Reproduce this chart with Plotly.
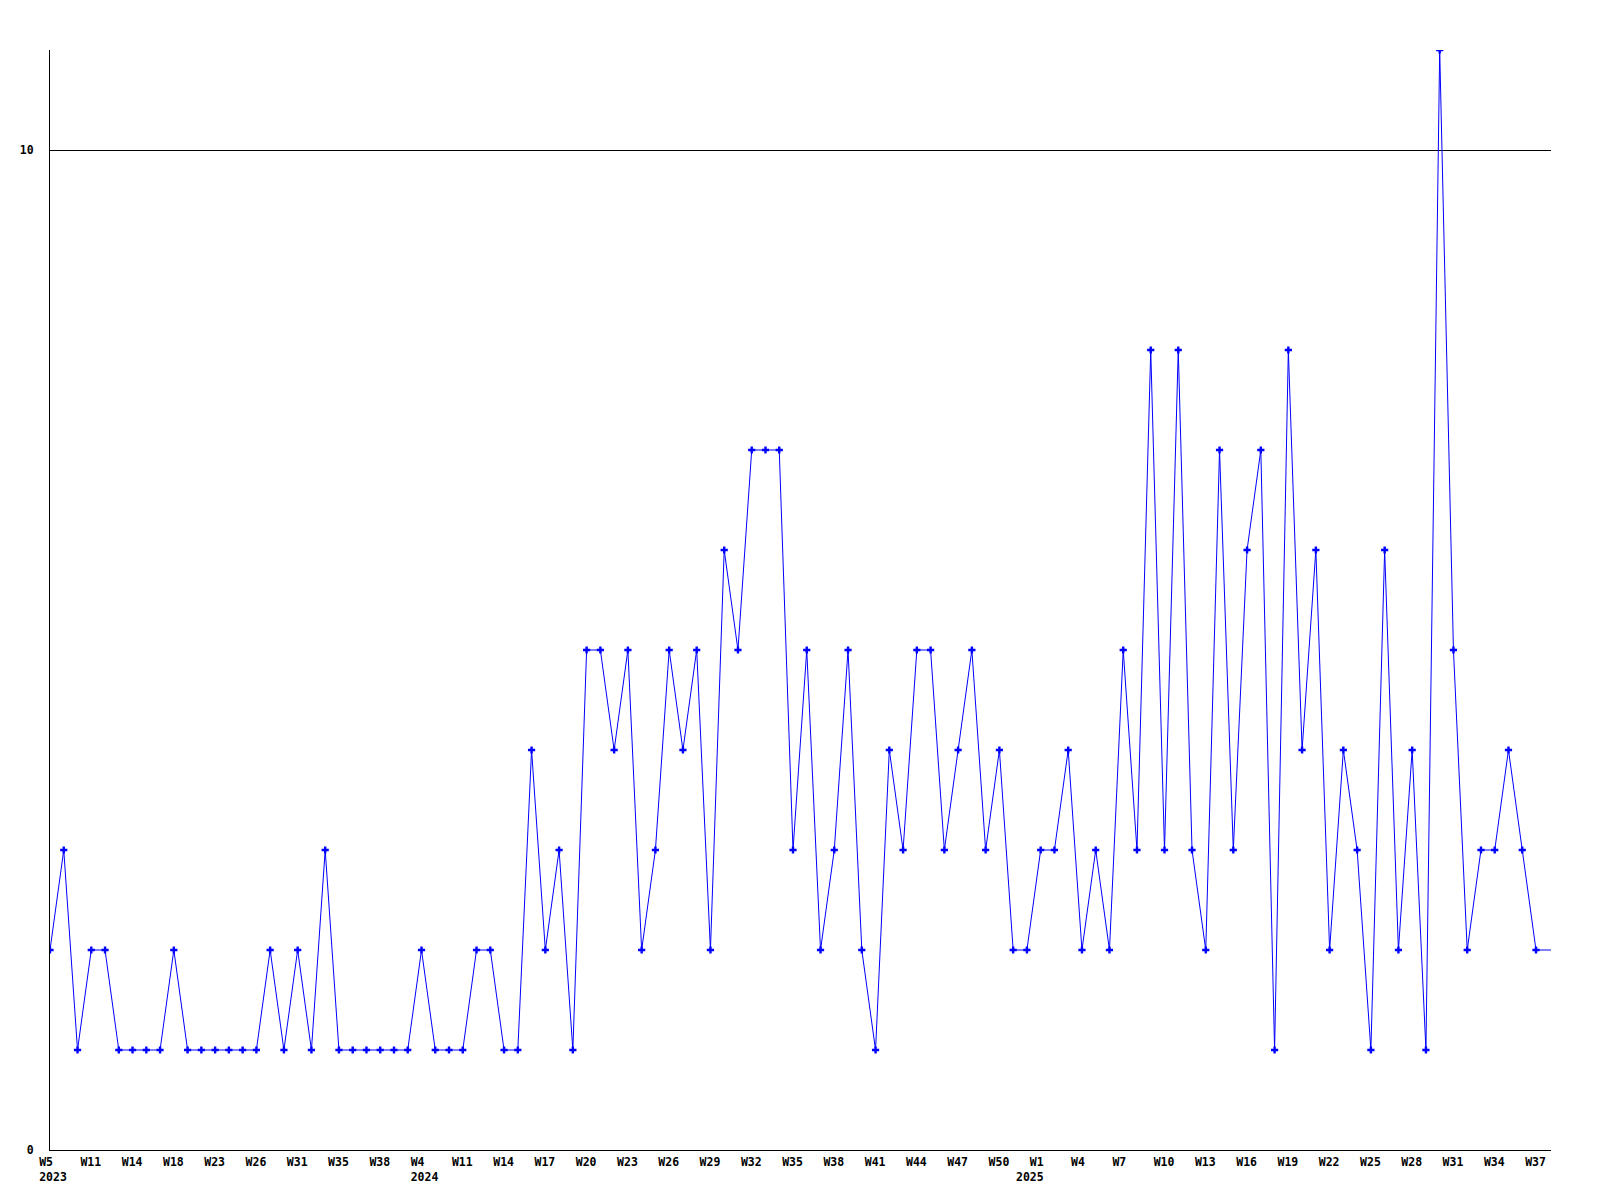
import plotly.graph_objects as go

# Weekly values, 2023 W5 ... 2025 W37 (109 reported weeks)
values = [2, 3, 1, 2, 2, 1, 1, 1, 1, 2, 1, 1, 1, 1, 1, 1, 2, 1, 2, 1,
          3, 1, 1, 1, 1, 1, 1, 2, 1, 1, 1, 2, 2, 1, 1, 4, 2, 3, 1, 5,
          5, 4, 5, 2, 3, 5, 4, 5, 2, 6, 5, 7, 7, 7, 3, 5, 2, 3, 5, 2,
          1, 4, 3, 5, 5, 3, 4, 5, 3, 4, 2, 2, 3, 3, 4, 2, 3, 2, 5, 3,
          8, 3, 8, 3, 2, 7, 3, 6, 7, 1, 8, 4, 6, 2, 4, 3, 1, 6, 2, 4,
          1, 11, 5, 2, 3, 3, 4, 3, 2]

# Tick labels shown every third point
tick_weeks = ["W5", "W11", "W14", "W18", "W23", "W26", "W31", "W35", "W38",
              "W4", "W11", "W14", "W17", "W20", "W23", "W26", "W29", "W32",
              "W35", "W38", "W41", "W44", "W47", "W50",
              "W1", "W4", "W7", "W10", "W13", "W16", "W19", "W22", "W25",
              "W28", "W31", "W34", "W37"]
tick_years = {0: "2023", 9: "2024", 24: "2025"}
year_left_chars = {24: 2}   # 2025 label sits two characters further left
tick_step = 3

y_ticks = [0, 10]
y_range = [0, 11]

x = list(range(len(values)))
x_max = len(values) - 1 + 1.09

NB = "\u00a0"
ticktext = []
for i, w in enumerate(tick_weeks):
    lab = w + NB * (4 - len(w))
    if i in tick_years:
        k = year_left_chars.get(i, 0)
        lab += "<br>" + tick_years[i] + NB * (2 * k)
    ticktext.append(lab)
tickvals = [i * tick_step for i in range(len(tick_weeks))]

blue = "#0000FF"
font = dict(family="DejaVu Sans Mono", size=11.5, color="black", weight="bold")

fig = go.Figure()
fig.add_trace(go.Scatter(
    x=x, y=values, mode="lines+markers",
    line=dict(color=blue, width=1),
    marker=dict(symbol="cross", size=6, color=blue, line=dict(width=0)),
    showlegend=False,
))
fig.add_trace(go.Scatter(
    x=[x[-1], x_max], y=[values[-1], values[-1]], mode="lines",
    line=dict(color=blue, width=1), showlegend=False, hoverinfo="skip",
))

fig.update_layout(
    width=1600, height=1200,
    margin=dict(l=50, r=49, t=50, b=50),
    paper_bgcolor="white", plot_bgcolor="white",
    font=font,
    xaxis=dict(
        range=[0, x_max], tickmode="array", tickvals=tickvals, ticktext=ticktext,
        showgrid=False, zeroline=False, showline=True, linecolor="black", linewidth=1,
        ticks="", ticklabelstandoff=1, ticklabelshift=3, tickfont=font, tickangle=0,
        automargin=False,
    ),
    yaxis=dict(
        range=y_range, tickmode="array", tickvals=y_ticks, ticktext=[str(v) for v in y_ticks],
        showgrid=True, gridcolor="black", gridwidth=1, zeroline=False,
        showline=True, linecolor="black", linewidth=1,
        ticks="", ticklabelstandoff=13, tickfont=font, automargin=False,
    ),
)

fig.write_html("out.html", config={"displayModeBar": False},
               post_script="document.body.style.margin='0';")
